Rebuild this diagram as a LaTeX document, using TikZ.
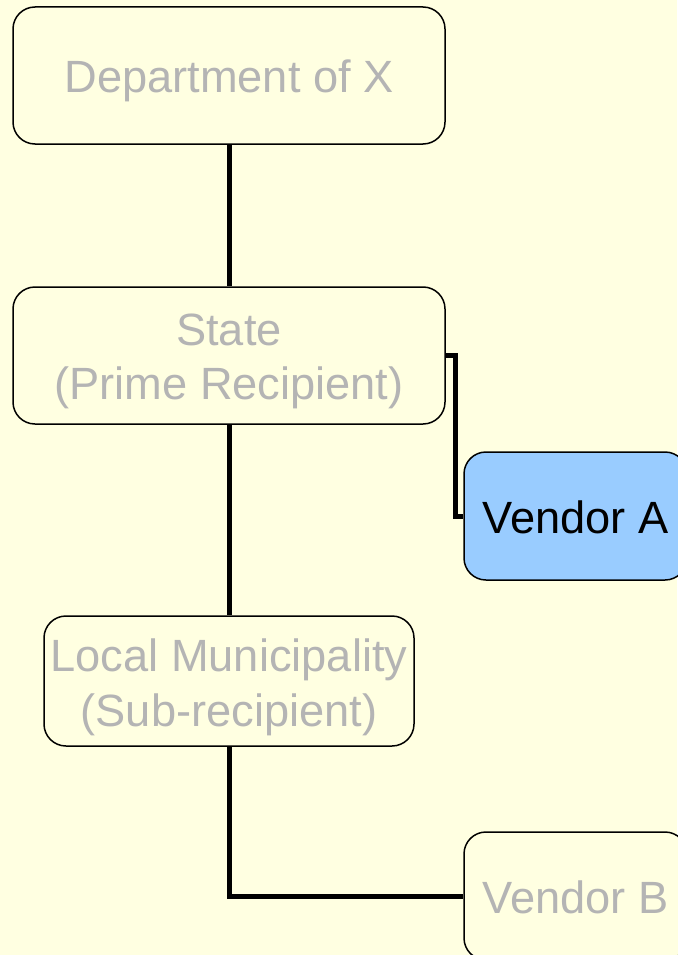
\documentclass[tikz,border=0pt]{standalone}
\usepackage{fontspec}
\setmainfont{Liberation Sans}
\definecolor{bgyellow}{HTML}{FFFFE1}
\definecolor{txtgray}{HTML}{B4B4B4}
\definecolor{vendorblue}{HTML}{99CCFF}
\begin{document}
\begin{tikzpicture}[x=1pt,y=-1pt,
  box/.style={draw=black, line width=1.5pt, rounded corners=22pt, fill=bgyellow,
    inner sep=0pt},
  boxtext/.style={text=txtgray, align=center, inner sep=0pt,
    font=\fontsize{45.2}{54.5}\selectfont},
  link/.style={draw=black, line width=5pt}]
\fill[bgyellow] (0,0) rectangle (677,955);
\useasboundingbox (0,0) rectangle (677,955);
\node[box, minimum width=432pt, minimum height=137pt,
  label={[boxtext, yshift=-5pt]center:Department of X}] (dept) at (229,75.5) {};
\node[box, minimum width=432pt, minimum height=137pt,
  label={[boxtext, yshift=-6pt]center:{State\\(Prime Recipient)}}] (state) at (229,355.5) {};
\node[box, minimum width=370pt, minimum height=130pt,
  label={[boxtext, yshift=-6.5pt]center:{Local Municipality\\(Sub-recipient)}}] (local) at (229,681) {};
\node[box, fill=vendorblue, minimum width=223pt, minimum height=128pt,
  label={[boxtext, text=black, yshift=-1pt]center:Vendor A}] (va) at (575.5,516) {};
\node[box, minimum width=223pt, minimum height=128pt,
  label={[boxtext, yshift=-1pt]center:Vendor B}] (vb) at (575.5,896) {};
\coordinate (elbowA) at (455,436);
\draw[link] (dept.south) -- (state.north);
\draw[link] (state.south) -- (local.north);
\draw[link] (state.east) -| (elbowA) |- (va.west);
\draw[link] (local.south) |- (vb.west);
\end{tikzpicture}
\end{document}
